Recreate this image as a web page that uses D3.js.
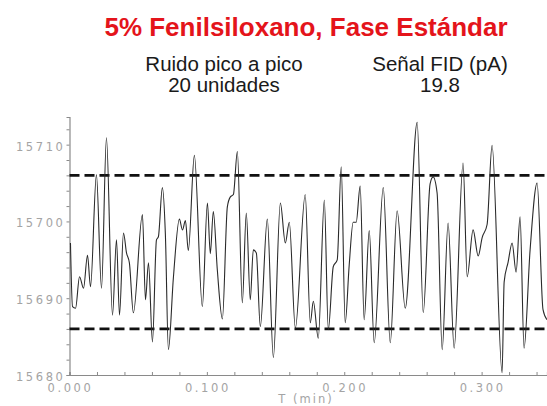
<!DOCTYPE html>
<html>
<head>
<meta charset="utf-8">
<script src="https://cdn.jsdelivr.net/npm/d3@7"></script>
<style>
  html, body { margin: 0; padding: 0; background: #ffffff; }
  svg { display: block; }
</style>
</head>
<body>
<div id="chart"></div>
<script>
// ---------- DATA ----------
const titleText = "5% Fenilsiloxano, Fase Estándar";
const infoLabels = ["Ruido pico a pico", "Señal FID (pA)"];
const infoValues = ["20 unidades", "19.8"];

// time (min)
const times = [
  0.0007, 0.0022, 0.0044, 0.0073, 0.0102, 0.0131, 0.0153, 0.0196, 0.0233, 0.0269,
  0.0313, 0.0342, 0.0364, 0.0393, 0.0415, 0.0436, 0.0465, 0.0531, 0.0553, 0.0575,
  0.0604, 0.0633, 0.0647, 0.0676, 0.0698, 0.0720, 0.0756, 0.0800, 0.0822, 0.0844,
  0.0865, 0.0909, 0.0967, 0.1004, 0.1025, 0.1047, 0.1076, 0.1113, 0.1149, 0.1171,
  0.1193, 0.1222, 0.1258, 0.1287, 0.1316, 0.1338, 0.1360, 0.1389, 0.1440, 0.1484,
  0.1535, 0.1571, 0.1600, 0.1644, 0.1716, 0.1753, 0.1775, 0.1811, 0.1855, 0.1884,
  0.1920, 0.1949, 0.1978, 0.2007, 0.2036, 0.2065, 0.2087, 0.2116, 0.2145, 0.2182,
  0.2218, 0.2284, 0.2335, 0.2385, 0.2444, 0.2531, 0.2575, 0.2625, 0.2647, 0.2676,
  0.2713, 0.2756, 0.2800, 0.2865, 0.2895, 0.2938, 0.2975, 0.3004, 0.3040, 0.3076,
  0.3149, 0.3164, 0.3193, 0.3222, 0.3251, 0.3280, 0.3309, 0.3353, 0.3404, 0.3447,
  0.3476
];
// detector signal (counts)
const signal = [
  15697.2, 15688.9, 15688.7, 15692.8, 15691.3, 15695.6, 15691.5, 15706.1, 15691.3, 15710.9,
  15687.8, 15697.6, 15687.8, 15698.5, 15695.9, 15694.6, 15688.1, 15700.9, 15689.8, 15694.6,
  15684.3, 15697.6, 15698.0, 15704.4, 15698.3, 15683.3, 15692.6, 15700.3, 15698.9, 15700.1,
  15696.2, 15708.6, 15688.9, 15702.4, 15695.8, 15701.3, 15693.7, 15687.3, 15701.9, 15703.2,
  15703.5, 15709.1, 15689.4, 15701.1, 15689.8, 15696.3, 15695.9, 15686.3, 15700.3, 15682.3,
  15702.4, 15697.2, 15699.9, 15686.1, 15703.5, 15686.8, 15689.6, 15684.8, 15702.8, 15685.9,
  15694.1, 15695.0, 15707.1, 15686.8, 15694.3, 15699.9, 15699.9, 15704.6, 15687.2, 15698.8,
  15684.2, 15704.4, 15684.2, 15701.4, 15688.7, 15712.9, 15688.1, 15704.9, 15705.8, 15703.7,
  15683.3, 15699.8, 15683.5, 15707.6, 15692.8, 15698.9, 15695.5, 15697.9, 15699.6, 15709.9,
  15680.3, 15692.1, 15694.7, 15697.2, 15693.4, 15700.6, 15683.5, 15696.3, 15705.0, 15688.5,
  15687.2
];
// peak-to-peak noise band
const noiseBand = [15686, 15706];
// axes
const yTickValues = [15680, 15690, 15700, 15710];
const xTickValues = [0.0, 0.1, 0.2, 0.3];
const xTickLabels = ["0.000", "0.100", "0.200", "0.300"];
const xAxisTitle = "T (min)";
const xDomain = [0, 0.3476];
const yDomain = [15680, 15713.6];

// ---------- LAYOUT ----------
const W = 547, H = 406;
const mLeft = 69.5, mRight = 547, mTop = 117, mBottom = 375;

const svg = d3.select("#chart").append("svg")
  .attr("width", W).attr("height", H)
  .style("font-family", "'Liberation Sans', Arial, sans-serif");

svg.append("rect").attr("width", W).attr("height", H).attr("fill", "#ffffff");

const x = d3.scaleLinear().domain(xDomain).range([mLeft, mRight]);
const y = d3.scaleLinear().domain(yDomain).range([mBottom, mTop]);

// ---------- TITLES ----------
svg.append("text")
  .attr("x", 306).attr("y", 36)
  .attr("text-anchor", "middle")
  .attr("font-size", 26).attr("font-weight", "bold")
  .attr("fill", "#e4141b")
  .text(titleText);

const infoX = [224, 440];
infoLabels.forEach((t, i) => {
  svg.append("text")
    .attr("x", infoX[i]).attr("y", 71)
    .attr("text-anchor", "middle")
    .attr("font-size", 20.5).attr("fill", "#1a1a1a")
    .text(t);
  svg.append("text")
    .attr("x", infoX[i]).attr("y", 92)
    .attr("text-anchor", "middle")
    .attr("font-size", 20.5).attr("fill", "#1a1a1a")
    .text(infoValues[i]);
});

// ---------- AXES ----------
const axisColor = "#8a8a8a";
const labelColor = "#a4a4a4";
const labelFont = "'DejaVu Sans', sans-serif";

// y axis minor ticks every 2
const yMinor = d3.range(yDomain[0], yDomain[1] + 0.001, 2);
const yAxis = d3.axisLeft(y)
  .tickValues(yMinor)
  .tickSize(3)
  .tickFormat("");
const gy = svg.append("g").attr("transform", `translate(${mLeft},0)`).call(yAxis);
gy.select(".domain").attr("stroke", axisColor).attr("stroke-width", 1.2);
gy.selectAll(".tick line").attr("stroke", axisColor);

svg.append("g").selectAll("text")
  .data(yTickValues)
  .join("text")
  .attr("x", mLeft - 4)
  .attr("y", d => y(d) + 6)
  .attr("text-anchor", "end")
  .attr("font-family", labelFont)
  .attr("font-size", 11.5)
  .attr("letter-spacing", 2.6)
  .attr("fill", labelColor)
  .text(d => d);

// x axis minor ticks every 0.02
const xMinor = d3.range(0, xDomain[1], 0.02);
const xAxis = d3.axisTop(x)
  .tickValues(xMinor)
  .tickSize(3)
  .tickFormat("");
const gx = svg.append("g").attr("transform", `translate(0,${mBottom})`).call(xAxis);
gx.select(".domain").attr("stroke", axisColor).attr("stroke-width", 1.2);
gx.selectAll(".tick line").attr("stroke", axisColor);

svg.append("g").selectAll("text")
  .data(xTickValues)
  .join("text")
  .attr("x", (d) => x(d) + 1)
  .attr("y", mBottom + 17)
  .attr("text-anchor", "middle")
  .attr("font-family", labelFont)
  .attr("font-size", 11.5)
  .attr("letter-spacing", 2.6)
  .attr("fill", labelColor)
  .text((d, i) => xTickLabels[i]);

svg.append("text")
  .attr("x", 306).attr("y", 403)
  .attr("text-anchor", "middle")
  .attr("font-family", labelFont)
  .attr("font-size", 11.5)
  .attr("letter-spacing", 2)
  .attr("fill", labelColor)
  .text(xAxisTitle);

// ---------- NOISE BAND ----------
svg.append("g").selectAll("line")
  .data(noiseBand)
  .join("line")
  .attr("x1", mLeft).attr("x2", mRight)
  .attr("y1", d => y(d)).attr("y2", d => y(d))
  .attr("stroke", "#111")
  .attr("stroke-width", 2.8)
  .attr("stroke-dasharray", "10,5");

// ---------- SIGNAL TRACE ----------
const pts = times.map((t, i) => [t, signal[i]]);
const line = d3.line()
  .x(d => x(d[0])).y(d => y(d[1]))
  .curve(d3.curveMonotoneX);
svg.append("path")
  .datum(pts)
  .attr("fill", "none")
  .attr("stroke", "#2a2a2a")
  .attr("stroke-width", 1.1)
  .attr("stroke-linejoin", "round")
  .attr("d", line);
</script>
</body>
</html>
